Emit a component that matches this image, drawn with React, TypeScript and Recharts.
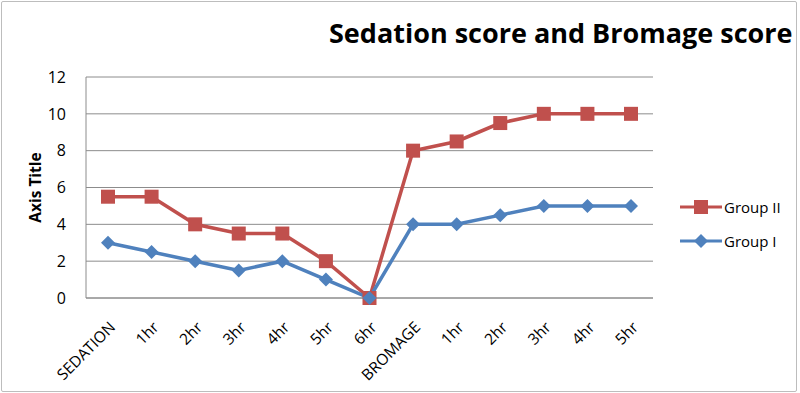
import { LineChart, Line, XAxis, YAxis, CartesianGrid, Label } from 'recharts';

const categories = ['SEDATION', '1hr', '2hr', '3hr', '4hr', '5hr', '6hr', 'BROMAGE', '1hr', '2hr', '3hr', '4hr', '5hr'];
const groupII = [5.5, 5.5, 4, 3.5, 3.5, 2, 0, 8, 8.5, 9.5, 10, 10, 10];
const groupI = [3, 2.5, 2, 1.5, 2, 1, 0, 4, 4, 4.5, 5, 5, 5];
const yTicks = [0, 2, 4, 6, 8, 10, 12];

const RED = '#C0504D';
const BLUE = '#4F81BD';
const FONT = '"Open Sans", "Liberation Sans", sans-serif';

const data = categories.map((c, i) => ({
  label: c,
  g2: groupII[i],
  g1: groupI[i],
}));

function SlantTick(props: any) {
  const { x, y, payload } = props;
  const tx = x + 4;
  const ty = y + 18;
  return (
    <text
      x={tx}
      y={ty}
      transform={`rotate(-45, ${tx}, ${ty})`}
      textAnchor="end"
      dominantBaseline="central"
      fontSize={15.5}
      fontFamily={FONT}
      fill="#000"
    >
      {payload.value}
    </text>
  );
}

function SquareDot(props: any) {
  const { cx, cy } = props;
  if (cx == null || cy == null) return null;
  return <rect x={cx - 7} y={cy - 7} width={14} height={14} fill={RED} />;
}

function DiamondDot(props: any) {
  const { cx, cy } = props;
  if (cx == null || cy == null) return null;
  const r = 7;
  return <path d={`M${cx},${cy - r}L${cx + r},${cy}L${cx},${cy + r}L${cx - r},${cy}Z`} fill={BLUE} />;
}

function LegendBox() {
  const items = [
    { name: 'Group II', color: RED, shape: 'square' },
    { name: 'Group I', color: BLUE, shape: 'diamond' },
  ];
  return (
    <div style={{ position: 'absolute', left: 680, top: 190, width: 110, fontFamily: FONT, fontSize: 15 }}>
      {items.map((it) => (
        <div key={it.name} style={{ display: 'flex', alignItems: 'center', height: 34 }}>
          <svg width={42} height={16}>
            <line x1={0} y1={8} x2={42} y2={8} stroke={it.color} strokeWidth={3} />
            {it.shape === 'square' ? (
              <rect x={14} y={1} width={14} height={14} fill={it.color} />
            ) : (
              <path d="M21,1L28,8L21,15L14,8Z" fill={it.color} />
            )}
          </svg>
          <span style={{ marginLeft: 2, color: '#000' }}>{it.name}</span>
        </div>
      ))}
    </div>
  );
}

export default function App() {
  return (
    <div style={{ position: 'absolute', left: 0, top: 0, width: 800, height: 393, background: '#fff' }}>
      <div
        style={{
          position: 'absolute',
          left: 1,
          top: 1,
          width: 794,
          height: 389,
          border: '1px solid #bdbdbd',
          borderRadius: 2,
        }}
      />
      <div
        style={{
          position: 'absolute',
          left: 329,
          top: 15,
          fontFamily: FONT,
          fontWeight: 700,
          fontSize: 27,
          lineHeight: '36px',
          color: '#000',
          whiteSpace: 'nowrap',
        }}
      >
        Sedation score and Bromage score
      </div>
      <div style={{ position: 'absolute', left: 0, top: 0 }}>
        <LineChart
          width={800}
          height={393}
          data={data}
          margin={{ top: 77, right: 147, bottom: 0, left: 20 }}
        >
          <CartesianGrid vertical={false} stroke="#8c8c8c" strokeWidth={1} />
          <XAxis
            dataKey="label"
            interval={0}
            tick={<SlantTick />}
            tickLine={false}
            axisLine={{ stroke: '#8c8c8c' }}
            height={95}
            padding={{ left: 22, right: 22 }}
          />
          <YAxis
            domain={[0, 12]}
            ticks={yTicks}
            tickLine={false}
            axisLine={{ stroke: '#8c8c8c' }}
            width={66}
            tick={{ fontSize: 16, fill: '#000', fontFamily: FONT }}
            tickMargin={14}
          >
            <Label
              value="Axis Title"
              angle={-90}
              position="insideLeft"
              offset={15}
              style={{ fontSize: 15.5, fontWeight: 700, fill: '#000', fontFamily: FONT, textAnchor: 'middle' }}
            />
          </YAxis>
          <Line
            dataKey="g2"
            name="Group II"
            stroke={RED}
            strokeWidth={3.5}
            dot={<SquareDot />}
            activeDot={false}
            isAnimationActive={false}
          />
          <Line
            dataKey="g1"
            name="Group I"
            stroke={BLUE}
            strokeWidth={3.5}
            dot={<DiamondDot />}
            activeDot={false}
            isAnimationActive={false}
          />
        </LineChart>
      </div>
      <LegendBox />
    </div>
  );
}
